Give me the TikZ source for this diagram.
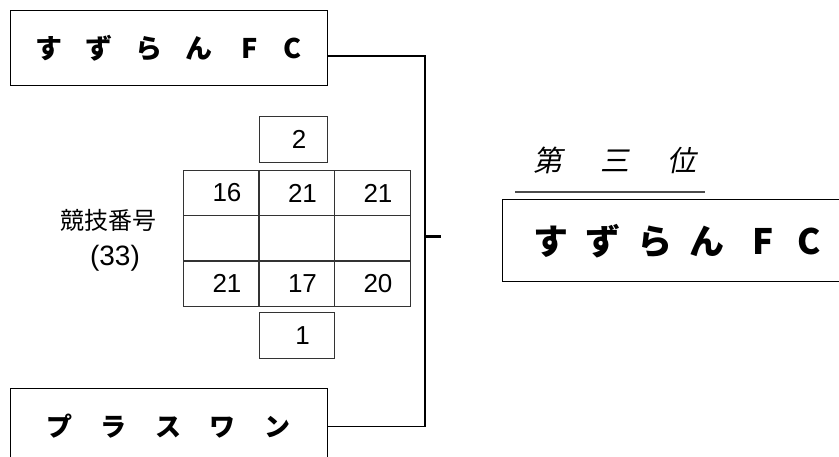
\documentclass[tikz,border=0pt]{standalone}
\usepackage{fontspec}
\setmainfont{Liberation Sans}
\newfontfamily\jpfont{Noto Sans CJK JP}
\newfontfamily\jpslant[FakeSlant=0.2]{Noto Sans CJK JP}
\newcommand{\kgap}[1]{\hspace{#1}}

\tikzset{
  teambox/.style={draw, line width=1pt, minimum width=317pt, minimum height=75pt,
    inner sep=0pt, font=\jpfont\bfseries\fontsize{27}{27}\selectfont},
  scorecell/.style={draw=black!80, line width=0.8pt, minimum width=76pt,
    minimum height=45.5pt, inner sep=0pt},
  score/.style={font=\fontsize{26}{26}\selectfont, xshift=6pt, inner sep=0pt},
  bracket/.style={line width=1.2pt},
}

\begin{document}
\begin{tikzpicture}[x=1pt, y=-1pt]
  \useasboundingbox (0,0) rectangle (839,457);

  % teams
  \node[teambox] (top) at (168.5,48.5)
    {す\kgap{23pt}ず\kgap{23pt}ら\kgap{23pt}ん\kgap{29pt}F\kgap{25.5pt}C};
  \node[teambox, font=\jpfont\bfseries\fontsize{26}{26}\selectfont] (bottom) at (168.5,426.5)
    {プ\kgap{28.5pt}ラ\kgap{28.5pt}ス\kgap{28.5pt}ワ\kgap{28.5pt}ン};

  % match number
  \node (matchno) at (108,220) {\jpfont\fontsize{24}{24}\selectfont 競技番号};
  \node (matchid) at (115,258) {\fontsize{28}{28}\selectfont (33)};

  % score sheet
  \foreach \col/\cx in {0/221,1/296.5,2/372}
    \foreach \row/\cy in {0/193,1/238.5,2/283.5}
      \node[scorecell] (c\row\col) at (\cx,\cy) {};
  \foreach \cell/\val in {c00/16,c01/21,c02/21,c20/21,c21/17,c22/20}
    \node[score] at (\cell) {\val};
  \node[scorecell, minimum width=68pt] (set2) at (293,139.5) {};
  \node[score] at (set2) {2};
  \node[scorecell, minimum width=75pt] (set1) at (296.5,335.5) {};
  \node[score] at (set1) {1};

  % bracket
  \coordinate (bend) at (425,56);
  \draw[bracket] ([yshift=-7.5pt]top.east) -- (bend) -- (bend |- bottom.east) -- (bottom.east);
  \coordinate (stub) at (425,237);
  \coordinate (stubend) at (441,237);
  \draw[line width=3pt] (stub) -- (stubend);

  % result
  \node (rank) at (615,160.5) {\jpslant\fontsize{29}{29}\selectfont 第\kgap{38pt}三\kgap{38pt}位};
  \draw[line width=2pt, black!70] (515,192) -- (705,192);
  \draw[line width=1pt] (502,200) rectangle (870,282);
  \node[font=\jpfont\bfseries\fontsize{35}{35}\selectfont] (winner) at (677,241)
    {す\kgap{17pt}ず\kgap{17pt}ら\kgap{17pt}ん\kgap{28pt}F\kgap{24pt}C};
\end{tikzpicture}
\end{document}
